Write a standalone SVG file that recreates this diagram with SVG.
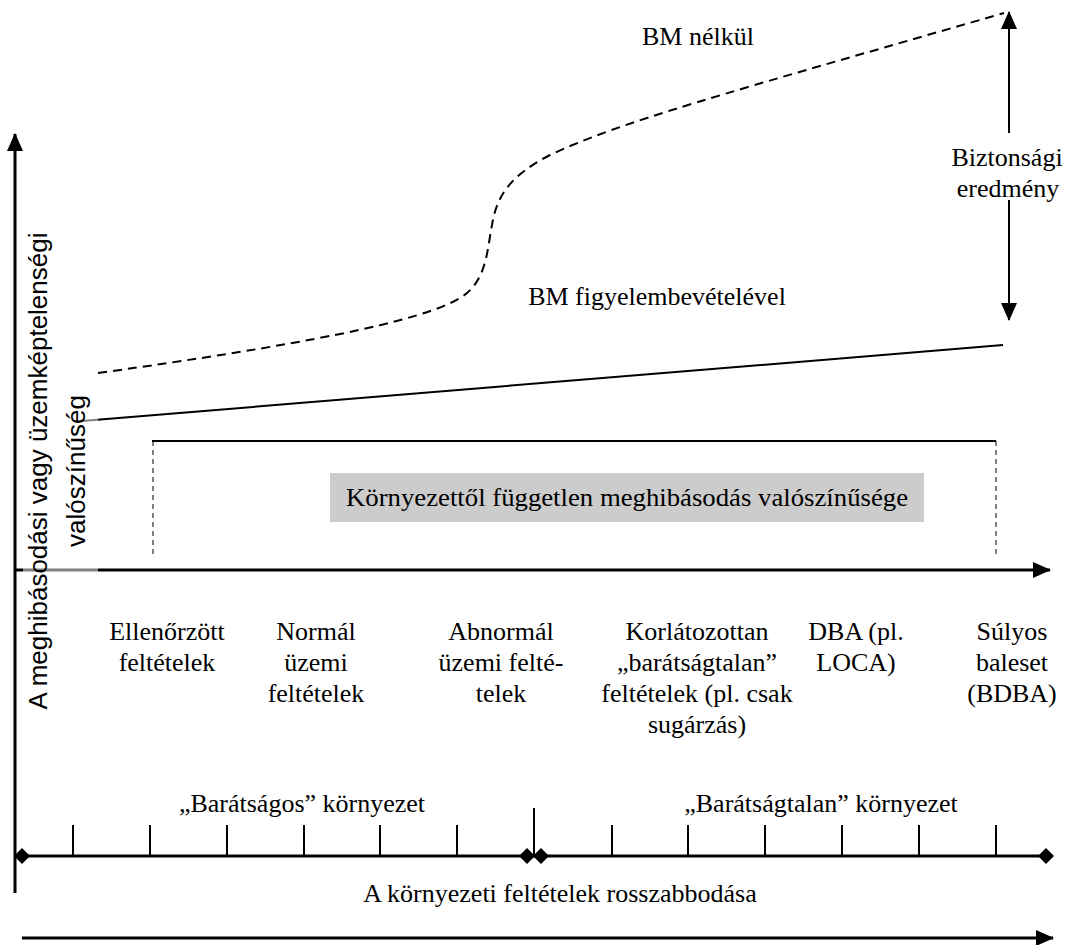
<svg xmlns="http://www.w3.org/2000/svg" width="1069" height="945" viewBox="0 0 1069 945">
<style>
.serif{font-size:26px;fill:#000;text-anchor:middle}
.sans{font-family:'Liberation Sans',Arial,sans-serif;font-size:26px;fill:#000;text-anchor:middle}
.axis{stroke:#000;stroke-width:3;fill:none}
.thin{stroke:#000;stroke-width:2;fill:none}
.dash{stroke:#000;stroke-width:2;fill:none;stroke-dasharray:9 6}
.dashv{stroke:#000;stroke-width:1;fill:none;stroke-dasharray:5 4}
.tick{stroke:#000;stroke-width:2}
</style>
<defs>
<marker id="arr" viewBox="0 0 18 16" refX="17" refY="8" markerWidth="18" markerHeight="16" markerUnits="userSpaceOnUse" orient="auto">
<path d="M0,0 L18,8 L0,16 Z" fill="#000"/>
</marker>
<marker id="dia" viewBox="0 0 16 16" refX="8" refY="8" markerWidth="16" markerHeight="16" markerUnits="userSpaceOnUse" orient="auto">
<path d="M0,8 L8,0 L16,8 L8,16 Z" fill="#000"/>
</marker>
</defs>
<rect width="1069" height="945" fill="#fff"/>
<g id="connectors">
<line class="axis" x1="15" y1="893" x2="15" y2="134" marker-end="url(#arr)"/>
<line class="axis" x1="15" y1="570" x2="1050" y2="570" marker-end="url(#arr)"/>
<path class="dash" d="M98,373 C300,345 420,322 460,298 C487,282 487,250 492,225 C497,195 510,176 550,155 C620,122 720,95 1004,13"/>
<line class="thin" x1="82" y1="421" x2="1003" y2="345"/>
<line class="thin" x1="1009" y1="133" x2="1009" y2="12" marker-end="url(#arr)"/>
<line class="thin" x1="1009" y1="200" x2="1009" y2="320" marker-end="url(#arr)"/>
<line class="thin" x1="152" y1="441" x2="996" y2="441"/>
<line class="dashv" x1="153" y1="441" x2="153" y2="557"/>
<line class="dashv" x1="996" y1="441" x2="996" y2="557"/>
<line class="axis" x1="22" y1="856" x2="527" y2="856" marker-start="url(#dia)" marker-end="url(#dia)"/>
<line class="axis" x1="541" y1="856" x2="1046" y2="856" marker-start="url(#dia)" marker-end="url(#dia)"/>
<line class="axis" x1="527" y1="856" x2="541" y2="856"/>
<g class="tick">
<line x1="534" y1="808" x2="534" y2="856"/>
<line x1="73" y1="825" x2="73" y2="856"/>
<line x1="150" y1="825" x2="150" y2="856"/>
<line x1="227" y1="825" x2="227" y2="856"/>
<line x1="304" y1="825" x2="304" y2="856"/>
<line x1="380" y1="825" x2="380" y2="856"/>
<line x1="457" y1="825" x2="457" y2="856"/>
<line x1="612" y1="825" x2="612" y2="856"/>
<line x1="688" y1="825" x2="688" y2="856"/>
<line x1="765" y1="825" x2="765" y2="856"/>
<line x1="842" y1="825" x2="842" y2="856"/>
<line x1="919" y1="825" x2="919" y2="856"/>
<line x1="996" y1="825" x2="996" y2="856"/>
</g>
<line class="axis" x1="22" y1="938" x2="1053" y2="938" marker-end="url(#arr)"/>
</g>
<g id="y-label">
<rect x="23" y="225" width="75" height="495" fill="#fff" fill-opacity="0.5"/>
<text class="sans" transform="translate(47,471) rotate(-90)">A meghibásodási vagy üzemképtelenségi</text>
<text class="sans" transform="translate(85,471) rotate(-90)">valószínűség</text>
</g>
<g font-family="'Liberation Serif', 'Times New Roman', Times, 'DejaVu Serif', serif">
<g id="bm-nelkul"><text class="serif" x="698" y="45">BM nélkül</text></g>
<g id="bm-figyelembe"><text class="serif" x="657" y="305">BM figyelembevételével</text></g>
<g id="biztonsagi"><text class="serif" x="1007" y="166">Biztonsági</text><text class="serif" x="1008" y="197">eredmény</text></g>
<g id="fuggetlen">
<rect x="330" y="473" width="594" height="49" fill="#cccccc"/>
<text class="serif" x="627" y="506" textLength="562" lengthAdjust="spacingAndGlyphs">Környezettől független meghibásodás valószínűsége</text>
</g>
<g id="ellenorzott"><text class="serif" x="167" y="640">Ellenőrzött</text><text class="serif" x="167" y="671">feltételek</text></g>
<g id="normal"><text class="serif" x="316" y="640">Normál</text><text class="serif" x="316" y="671">üzemi</text><text class="serif" x="316" y="702">feltételek</text></g>
<g id="abnormal"><text class="serif" x="501" y="640">Abnormál</text><text class="serif" x="501" y="671">üzemi felté-</text><text class="serif" x="501" y="702">telek</text></g>
<g id="korlatozottan"><text class="serif" x="697" y="640">Korlátozottan</text><text class="serif" x="697" y="671">„barátságtalan”</text><text class="serif" x="697" y="702">feltételek (pl. csak</text><text class="serif" x="697" y="733">sugárzás)</text></g>
<g id="dba"><text class="serif" x="856" y="640">DBA (pl.</text><text class="serif" x="856" y="671">LOCA)</text></g>
<g id="sulyos"><text class="serif" x="1012" y="640">Súlyos</text><text class="serif" x="1012" y="671">baleset</text><text class="serif" x="1012" y="702">(BDBA)</text></g>
<g id="baratsagos"><text class="serif" x="302" y="812">„Barátságos” környezet</text></g>
<g id="baratsagtalan"><text class="serif" x="821" y="812">„Barátságtalan” környezet</text></g>
<g id="rosszabbodas"><text class="serif" x="560" y="902">A környezeti feltételek rosszabbodása</text></g>
</g>
</svg>
